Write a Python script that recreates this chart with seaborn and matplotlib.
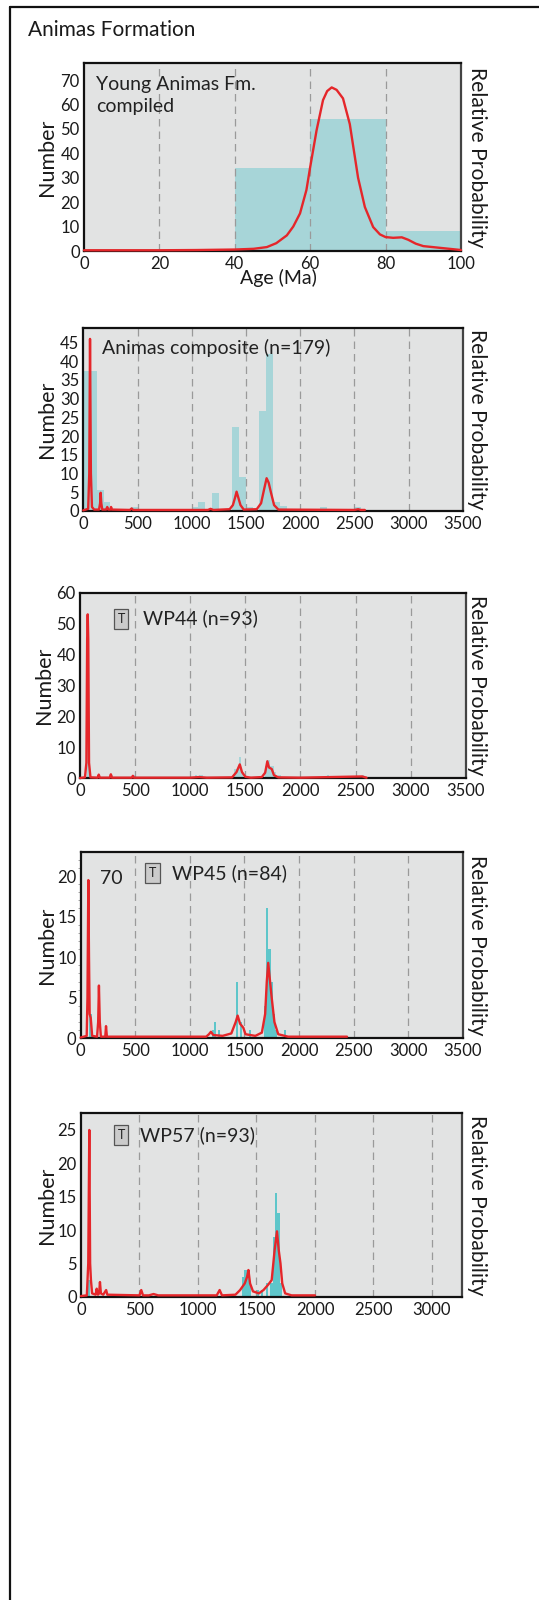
import numpy as np
import pandas as pd
import matplotlib
matplotlib.use("Agg")
import matplotlib.pyplot as plt
from matplotlib.lines import Line2D
import seaborn as sns

# ---------------- data ----------------
# Panel 1: Young Animas Fm. compiled (0-100 Ma)
p1_bin_left = [0, 20, 40, 60, 80]
p1_counts = [0, 0, 34, 54, 8]
p1_curve_age = [0, 10, 20, 30, 40, 45, 48.5, 51, 53.8, 55.5, 57.3, 59, 60, 61.7, 63.4, 64.5, 65.7,
                67, 68.7, 70.5, 72.7, 74.5, 76.7, 78.5, 80, 82, 84.3, 86, 88, 90, 95, 100]
p1_curve_val = [0.3, 0.3, 0.3, 0.4, 0.6, 0.9, 1.6, 3.2, 6.4, 10, 15.4, 25, 34.4, 49.5, 61.8, 65.5, 67,
                66, 62.5, 52, 30, 18, 9.8, 6.8, 5.7, 5.4, 5.6, 4.6, 3.0, 2.0, 1.2, 0.4]

# Panel 2: Animas composite (n=179)
p2_bin_left = [0, 62.5, 125, 187.5, 437.5, 1000, 1062.5, 1187.5, 1375, 1437.5, 1500,
               1625, 1687.5, 1750, 1812.5, 2187.5, 2500]
p2_counts = [37.5, 37.5, 5.5, 2.2, 1, 1, 2.2, 4.7, 22.3, 8.9, 1, 26.6, 42, 2.4, 1.2, 1, 1]
p2_curve_age = [0, 45, 55, 62, 70, 80, 100, 145, 155, 160, 166, 175, 210, 221, 230, 250, 256, 265,
                430, 446, 460, 1150, 1174, 1200, 1350, 1380, 1400, 1414, 1430, 1450, 1480, 1600,
                1640, 1670, 1691, 1710, 1730, 1760, 1800, 2500, 2536, 2560, 2597]
p2_curve_val = [0.1, 0.5, 10, 46, 10, 1, 0.3, 0.3, 2, 4.8, 2, 0.3, 0.3, 1, 0.3, 0.3, 1, 0.3,
                0.2, 0.6, 0.2, 0.2, 0.5, 0.2, 0.4, 1.5, 3.5, 5.1, 3.5, 1.5, 0.3, 0.4,
                2, 6, 8.7, 7.5, 5, 1.5, 0.3, 0.2, 0.4, 0.2, 0.2]

# Panel 3: WP44 (n=93)
p3_bin_left = [60, 80, 160, 280, 480, 1040, 1080, 1100, 1400, 1420, 1440, 1460,
               1680, 1700, 1720, 1740, 1760, 1800, 2240, 2560]
p3_counts = [46, 2, 1, 1, 1, 1, 1, 1, 3, 3, 7, 2, 4, 6, 4, 4, 2, 1, 1, 1]
p3_curve_age = [0, 45, 58, 65, 70, 75, 82, 95, 160, 170, 180, 270, 280, 290, 470, 480, 490,
                1000, 1080, 1150, 1380, 1420, 1450, 1470, 1500, 1550, 1650, 1680, 1700, 1715,
                1740, 1760, 1800, 2000, 2560, 2600]
p3_curve_val = [0.1, 0.3, 5, 45, 53, 45, 5, 0.3, 0.2, 1.2, 0.2, 0.2, 1.3, 0.2, 0.2, 0.8, 0.2,
                0.2, 0.4, 0.2, 0.3, 2, 4.5, 2, 0.5, 0.2, 0.4, 1.8, 5.5, 3.5,
                3, 1, 0.3, 0.2, 0.6, 0.2]

# Panel 4: WP45 (n=84)
p4_bin_left = [80, 1200, 1220, 1260, 1420, 1460, 1540, 1680, 1700, 1720, 1740, 1760, 1780, 1860]
p4_counts = [3, 1, 2, 1, 7, 2, 1, 4, 16, 11, 7, 3, 1, 1]
p4_curve_age = [0, 55, 62, 70, 76, 82, 92, 105, 150, 160, 167, 175, 185, 225, 232, 240,
                1150, 1175, 1193, 1215, 1300, 1380, 1420, 1438, 1460, 1490, 1510, 1600,
                1660, 1690, 1705, 1718, 1735, 1750, 1775, 1810, 1900, 2440]
p4_curve_val = [0.1, 0.3, 5, 19.5, 10, 3, 2.5, 0.3, 0.2, 2, 6.5, 2, 0.2, 0.2, 1.5, 0.2,
                0.2, 0.5, 0.8, 0.4, 0.3, 0.6, 2, 2.8, 1.8, 1.3, 0.5, 0.3,
                0.7, 3, 7, 9.3, 7, 5, 2, 0.5, 0.2, 0.2]

# Panel 5: WP57 (n=93)
p5_bin_left = [60, 1380, 1400, 1420, 1440, 1500, 1540, 1580, 1620, 1640, 1660, 1680, 1700]
p5_counts = [2.5, 3, 4, 4, 2, 1, 1, 2, 2, 9, 15.5, 12.5, 2]
p5_curve_age = [0, 50, 62, 71, 78, 85, 95, 125, 134, 145, 155, 162, 170, 190, 215, 225, 500, 515,
                530, 580, 620, 660, 1160, 1185, 1205, 1320, 1360, 1400, 1420, 1431, 1445, 1470,
                1520, 1560, 1600, 1630, 1655, 1675, 1690, 1705, 1720, 1745, 1800, 2000]
p5_curve_val = [0.1, 0.2, 5, 25, 5, 2.5, 0.5, 0.3, 1.2, 0.3, 0.5, 2.2, 0.5, 0.3, 1, 0.3, 0.2, 1,
                0.2, 0.2, 0.4, 0.2, 0.2, 1, 0.2, 0.3, 1, 2, 3, 4, 2, 0.8,
                0.5, 1, 1.8, 2.5, 7, 9.8, 7, 5, 2, 0.5, 0.2, 0.2]

panel_labels = ["Young Animas Fm.\ncompiled", "Animas composite (n=179)",
                "WP44 (n=93)", "WP45 (n=84)", "WP57 (n=93)"]

# ---------------- style ----------------
sns.set_style("white")
plt.rcParams['font.family'] = ['Lato', 'DejaVu Sans']

W, H = 539, 1600
fig = plt.figure(figsize=(W / 100, H / 100), dpi=100)

def px(x):
    return x / W

def py(y):
    return 1 - y / H

RED = "#E5262A"
TEAL_L = "#A7D5D8"
TEAL_D = "#5EC6CA"
BG = "#E2E3E3"
TXT = "#1a1a1a"

FS_TICK = 12
FS_NUM = 15.5
FS_REL = 15.2
FS_LAB = 14

def make_ax(x0, y0, x1, y1):
    return fig.add_axes([px(x0), py(y1), px(x1) - px(x0), (y1 - y0) / H])

def style_ax(ax, xmax, xticks, ymax, yticks):
    ax.set_facecolor(BG)
    ax.set_xlim(0, xmax)
    ax.set_ylim(0, ymax)
    ax.set_xticks(xticks)
    ax.set_yticks(yticks)
    ax.set_xlabel("")
    ax.set_ylabel("")
    ax.tick_params(axis='both', length=0, labelsize=FS_TICK, colors=TXT)
    ax.tick_params(axis='y', pad=3)
    ax.tick_params(axis='x', pad=3.5)
    for s in ['top', 'left', 'bottom']:
        ax.spines[s].set_color('#111111')
        ax.spines[s].set_linewidth(1.6)
    ax.spines['right'].set_color('#444444')
    ax.spines['right'].set_linewidth(1.6)
    for gx in xticks:
        if 0 < gx < xmax:
            ax.axvline(gx, color='#9a9a9a', lw=0.9, ls=(0, (6, 4)), zorder=2.5)

def draw(ax, bin_left, counts, width, xmax, teal, cage, cval):
    left = np.array(bin_left, dtype=float)
    df = pd.DataFrame({"age": left + width / 2, "n": np.asarray(counts, dtype=float)})
    sns.histplot(data=df, x="age", weights="n", binwidth=width, binrange=(0, xmax), ax=ax,
                 color=teal, alpha=1, linewidth=0, zorder=1)
    cf = pd.DataFrame({"age": cage, "p": cval})
    sns.lineplot(data=cf, x="age", y="p", ax=ax, color=RED, lw=1.7, estimator=None,
                 sort=True, zorder=3)
    ax.lines[-1].set_clip_on(False)

def side_labels(ax_box, number_x=47):
    x0, y0, x1, y1 = ax_box
    yc = (y0 + y1) / 2
    fig.text(px(number_x), py(yc), "Number", rotation=90, ha='center', va='center',
             fontsize=FS_NUM, color=TXT)
    fig.text(px(477), py(yc), "Relative Probability", rotation=270, ha='center',
             va='center', fontsize=FS_REL, color=TXT)

def tbox(x, y):
    fig.text(px(x), py(y), "T", ha='center', va='center', fontsize=9, color='#222222',
             bbox=dict(boxstyle='square,pad=0.3', fc='#CBCBCB', ec='#555555', lw=0.9))

# outer frame
fig.add_artist(Line2D([px(10), px(10)], [py(6.5), 0], color='#111111', lw=1.6))
fig.add_artist(Line2D([px(10), 1], [py(6.5), py(6.5)], color='#111111', lw=1.6))

fig.text(px(28), py(29.5), "Animas Formation", ha='left', va='center', fontsize=15,
         color=TXT)

# Panel 1
b1 = (84, 63, 461, 251)
ax1 = make_ax(*b1)
draw(ax1, p1_bin_left, p1_counts, 20, 100, TEAL_L, p1_curve_age, p1_curve_val)
style_ax(ax1, 100, [0, 20, 40, 60, 80, 100], 77, list(range(0, 71, 10)))
side_labels(b1)
fig.text(px(278), py(278), "Age (Ma)", ha='center', va='center', fontsize=14, color=TXT)
fig.text(px(96), py(95.5), panel_labels[0], ha='left', va='center', fontsize=FS_LAB,
         color='#222222', linespacing=1.3)

# Panel 2
b2 = (83.3, 327.7, 462.7, 510.7)
ax2 = make_ax(*b2)
draw(ax2, p2_bin_left, p2_counts, 62.5, 3500, TEAL_L, p2_curve_age, p2_curve_val)
style_ax(ax2, 3500, list(range(0, 3501, 500)), 49, list(range(0, 46, 5)))
side_labels(b2)
fig.text(px(102), py(348), panel_labels[1], ha='left', va='center', fontsize=FS_LAB,
         color='#222222')

# Panel 3
b3 = (80, 592.7, 465.7, 778.3)
ax3 = make_ax(*b3)
draw(ax3, p3_bin_left, p3_counts, 20, 3500, TEAL_L, p3_curve_age, p3_curve_val)
style_ax(ax3, 3500, list(range(0, 3501, 500)), 60, list(range(0, 61, 10)))
side_labels(b3, number_x=44)
tbox(121, 619)
fig.text(px(143), py(618), panel_labels[2], ha='left', va='center', fontsize=FS_LAB,
         color='#222222')

# Panel 4
b4 = (80.7, 851.7, 462.7, 1038.3)
ax4 = make_ax(*b4)
draw(ax4, p4_bin_left, p4_counts, 20, 3500, TEAL_D, p4_curve_age, p4_curve_val)
style_ax(ax4, 3500, list(range(0, 3501, 500)), 23, [0, 5, 10, 15, 20])
ax4.set_yticks(np.arange(0, 23, 1), minor=True)
ax4.tick_params(axis='y', which='minor', length=2, color='#999999', width=0.6, left=True)
side_labels(b4)
fig.text(px(111), py(879), "70", ha='center', va='center', fontsize=FS_LAB, color='#222222')
tbox(152.5, 873)
fig.text(px(171.5), py(873), panel_labels[3], ha='left', va='center', fontsize=FS_LAB,
         color='#222222')

# Panel 5
b5 = (81, 1113.3, 461.7, 1296.7)
ax5 = make_ax(*b5)
draw(ax5, p5_bin_left, p5_counts, 20, 3254, TEAL_D, p5_curve_age, p5_curve_val)
style_ax(ax5, 3254, [0, 500, 1000, 1500, 2000, 2500, 3000], 27.5, [0, 5, 10, 15, 20, 25])
side_labels(b5)
tbox(121, 1135)
fig.text(px(140), py(1135), panel_labels[4], ha='left', va='center', fontsize=FS_LAB,
         color='#222222')

fig.savefig("out.png", dpi=100, facecolor='white')
